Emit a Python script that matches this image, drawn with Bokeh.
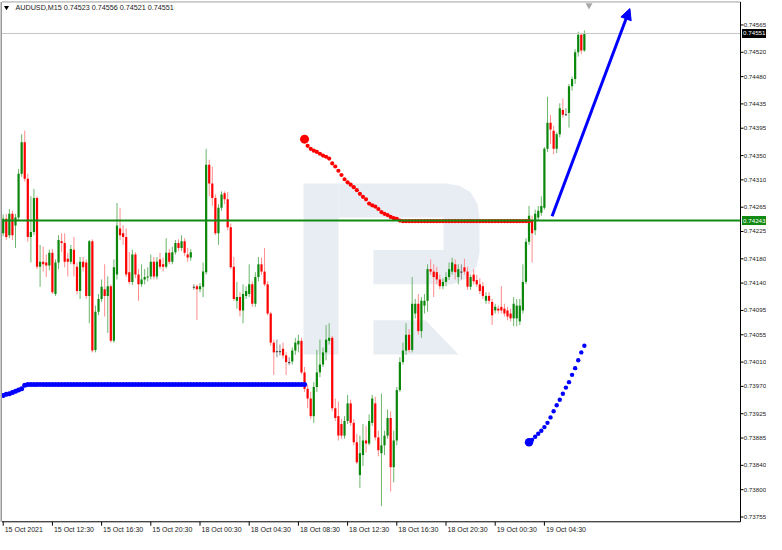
from bokeh.plotting import figure
from bokeh.models import Range1d, Arrow, NormalHead, ColumnDataSource
from bokeh.core.properties import value
from bokeh.embed import file_html
from bokeh.resources import INLINE

# ---------------- data ----------------
symbol = "AUDUSD,M15"
time_labels = ["15 Oct 2021", "15 Oct 12:30", "15 Oct 16:30", "15 Oct 20:30",
               "18 Oct 00:30", "18 Oct 04:30", "18 Oct 08:30", "18 Oct 12:30",
               "18 Oct 16:30", "18 Oct 20:30", "19 Oct 00:30", "19 Oct 04:30"]
time_label_bars = [0, 16, 32, 48, 64, 80, 96, 112, 128, 144, 160, 176]
price_ticks = [0.73755, 0.73800, 0.73840, 0.73885, 0.73925, 0.73970, 0.74010,
               0.74055, 0.74095, 0.74140, 0.74180, 0.74225, 0.74265, 0.74310,
               0.74350, 0.74395, 0.74435, 0.74480, 0.74520, 0.74565]

opens = [
 0.74222,0.74246,0.74219,0.74254,0.74235,0.74248,0.74320,0.74372,0.74312,0.74216,
 0.74224,0.74280,0.74167,0.74175,0.74174,0.74169,0.74190,0.74122,0.74174,0.74209,
 0.74206,0.74180,0.74175,0.74195,0.74167,0.74127,0.74175,0.74174,0.74119,0.74209,
 0.74030,0.74093,0.74114,0.74130,0.74119,0.74135,0.74045,0.74154,0.74230,0.74222,
 0.74216,0.74158,0.74142,0.74187,0.74154,0.74138,0.74146,0.74150,0.74151,0.74175,
 0.74151,0.74179,0.74171,0.74167,0.74190,0.74175,0.74191,0.74206,0.74198,0.74209,
 0.74187,0.74182,0.74134,0.74135,0.74130,0.74134,0.74158,0.74335,0.74304,0.74280,
 0.74222,0.74264,0.74288,0.74278,0.74232,0.74167,0.74111,0.74117,0.74095,0.74119,
 0.74122,0.74138,0.74106,0.74150,0.74171,0.74159,0.74138,0.74090,0.74042,0.74028,
 0.74028,0.74032,0.74021,0.74010,0.74011,0.74029,0.74039,0.74045,0.73993,0.73966,
 0.73950,0.73921,0.73969,0.73993,0.74006,0.74026,0.74045,0.74050,0.73934,0.73921,
 0.73908,0.73889,0.73913,0.73942,0.73910,0.73878,0.73824,0.73857,0.73881,0.73876,
 0.73910,0.73942,0.73886,0.73860,0.73873,0.73889,0.73918,0.73837,0.73881,0.73964,
 0.74010,0.74029,0.74055,0.74030,0.74090,0.74106,0.74061,0.74103,0.74111,0.74163,
 0.74159,0.74158,0.74146,0.74135,0.74142,0.74150,0.74159,0.74171,0.74150,0.74159,
 0.74166,0.74159,0.74134,0.74154,0.74145,0.74138,0.74135,0.74111,0.74119,0.74109,
 0.74095,0.74098,0.74101,0.74098,0.74095,0.74090,0.74082,0.74082,0.74077,0.74095,
 0.74142,0.74208,0.74243,0.74227,0.74248,0.74256,0.74264,0.74361,0.74404,0.74391,
 0.74361,0.74385,0.74425,0.74418,0.74420,0.74464,0.74476,0.74520,0.74549,0.74523]
highs = [
 0.74253,0.74254,0.74262,0.74259,0.74254,0.74328,0.74385,0.74391,0.74320,0.74283,
 0.74295,0.74283,0.74203,0.74200,0.74187,0.74195,0.74196,0.74179,0.74219,0.74222,
 0.74222,0.74190,0.74203,0.74216,0.74174,0.74183,0.74183,0.74179,0.74211,0.74212,
 0.74103,0.74122,0.74146,0.74171,0.74151,0.74138,0.74179,0.74272,0.74264,0.74235,
 0.74230,0.74191,0.74195,0.74191,0.74163,0.74171,0.74163,0.74166,0.74187,0.74183,
 0.74183,0.74190,0.74182,0.74214,0.74196,0.74200,0.74211,0.74212,0.74219,0.74214,
 0.74198,0.74196,0.74138,0.74138,0.74140,0.74174,0.74361,0.74343,0.74332,0.74286,
 0.74270,0.74291,0.74291,0.74290,0.74238,0.74183,0.74142,0.74125,0.74138,0.74135,
 0.74171,0.74143,0.74158,0.74183,0.74182,0.74198,0.74143,0.74093,0.74047,0.74047,
 0.74039,0.74042,0.74026,0.74018,0.74034,0.74050,0.74055,0.74050,0.74002,0.73973,
 0.73961,0.73977,0.74030,0.74047,0.74034,0.74071,0.74074,0.74053,0.73950,0.73945,
 0.73916,0.73921,0.73956,0.73948,0.73916,0.73892,0.73889,0.73908,0.73905,0.73924,
 0.73956,0.73953,0.73897,0.73958,0.73897,0.73932,0.73929,0.73897,0.73969,0.74018,
 0.74042,0.74074,0.74064,0.74150,0.74114,0.74122,0.74117,0.74122,0.74171,0.74179,
 0.74171,0.74167,0.74154,0.74148,0.74158,0.74174,0.74182,0.74179,0.74171,0.74171,
 0.74180,0.74167,0.74154,0.74163,0.74154,0.74148,0.74142,0.74125,0.74125,0.74114,
 0.74106,0.74103,0.74135,0.74106,0.74101,0.74098,0.74117,0.74114,0.74114,0.74171,
 0.74214,0.74267,0.74251,0.74261,0.74267,0.74283,0.74364,0.74447,0.74417,0.74399,
 0.74388,0.74436,0.74444,0.74428,0.74468,0.74480,0.74525,0.74554,0.74552,0.74556]
lows = [
 0.74217,0.74211,0.74214,0.74211,0.74198,0.74243,0.74315,0.74307,0.74208,0.74174,
 0.74219,0.74163,0.74134,0.74159,0.74150,0.74161,0.74122,0.74119,0.74163,0.74191,
 0.74166,0.74151,0.74171,0.74151,0.74122,0.74114,0.74159,0.74114,0.74074,0.74026,
 0.74026,0.74087,0.74109,0.74085,0.74058,0.74042,0.74042,0.74146,0.74211,0.74203,
 0.74150,0.74138,0.74137,0.74148,0.74111,0.74134,0.74138,0.74143,0.74146,0.74146,
 0.74146,0.74163,0.74159,0.74164,0.74171,0.74171,0.74187,0.74193,0.74193,0.74185,
 0.74175,0.74177,0.74129,0.74079,0.74125,0.74117,0.74154,0.74283,0.74267,0.74219,
 0.74203,0.74259,0.74270,0.74227,0.74163,0.74111,0.74098,0.74085,0.74074,0.74114,
 0.74117,0.74101,0.74101,0.74143,0.74154,0.74135,0.74087,0.74037,0.73989,0.74018,
 0.74021,0.74016,0.73989,0.74005,0.74006,0.74022,0.74026,0.73990,0.73961,0.73934,
 0.73916,0.73910,0.73961,0.73985,0.74002,0.74013,0.74039,0.73929,0.73913,0.73881,
 0.73884,0.73884,0.73908,0.73905,0.73873,0.73842,0.73803,0.73839,0.73861,0.73873,
 0.73905,0.73881,0.73855,0.73773,0.73857,0.73884,0.73797,0.73812,0.73873,0.73961,
 0.74006,0.74022,0.74026,0.74026,0.74082,0.74055,0.74050,0.74090,0.74093,0.74154,
 0.74117,0.74138,0.74130,0.74130,0.74135,0.74145,0.74154,0.74146,0.74138,0.74146,
 0.74154,0.74129,0.74129,0.74138,0.74134,0.74122,0.74114,0.74106,0.74106,0.74071,
 0.74090,0.74090,0.74090,0.74085,0.74079,0.74077,0.74069,0.74069,0.74071,0.74090,
 0.74138,0.74203,0.74174,0.74219,0.74243,0.74251,0.74261,0.74356,0.74369,0.74352,
 0.74354,0.74380,0.74412,0.74415,0.74396,0.74457,0.74468,0.74513,0.74517,0.74521]
closes = [
 0.74246,0.74216,0.74254,0.74219,0.74248,0.74320,0.74372,0.74312,0.74216,0.74224,
 0.74280,0.74167,0.74175,0.74171,0.74169,0.74190,0.74125,0.74174,0.74211,0.74206,
 0.74175,0.74175,0.74196,0.74171,0.74127,0.74175,0.74166,0.74119,0.74209,0.74029,
 0.74093,0.74114,0.74134,0.74119,0.74135,0.74045,0.74166,0.74235,0.74219,0.74216,
 0.74154,0.74142,0.74187,0.74154,0.74138,0.74146,0.74150,0.74151,0.74175,0.74151,
 0.74175,0.74167,0.74167,0.74190,0.74175,0.74191,0.74206,0.74198,0.74209,0.74190,
 0.74182,0.74191,0.74134,0.74130,0.74135,0.74159,0.74335,0.74304,0.74280,0.74222,
 0.74264,0.74286,0.74278,0.74232,0.74166,0.74114,0.74117,0.74095,0.74122,0.74127,
 0.74138,0.74106,0.74150,0.74171,0.74159,0.74138,0.74090,0.74042,0.74026,0.74028,
 0.74028,0.74021,0.74010,0.74010,0.74029,0.74042,0.74045,0.73993,0.73966,0.73950,
 0.73921,0.73969,0.73993,0.74006,0.74026,0.74047,0.74050,0.73934,0.73918,0.73889,
 0.73889,0.73913,0.73942,0.73910,0.73878,0.73845,0.73860,0.73881,0.73876,0.73913,
 0.73950,0.73886,0.73865,0.73873,0.73889,0.73918,0.73837,0.73881,0.73964,0.74010,
 0.74029,0.74055,0.74030,0.74106,0.74106,0.74061,0.74111,0.74111,0.74163,0.74159,
 0.74150,0.74146,0.74135,0.74142,0.74150,0.74163,0.74174,0.74158,0.74163,0.74159,
 0.74159,0.74134,0.74150,0.74143,0.74138,0.74127,0.74119,0.74119,0.74111,0.74087,
 0.74101,0.74095,0.74095,0.74090,0.74085,0.74082,0.74106,0.74103,0.74103,0.74142,
 0.74208,0.74251,0.74222,0.74254,0.74259,0.74267,0.74361,0.74404,0.74393,0.74361,
 0.74385,0.74428,0.74417,0.74418,0.74464,0.74476,0.74520,0.74549,0.74523,0.74551]

support_level = 0.74243   # green horizontal line
bid_price = 0.74551       # grey bid line / black price box

# red dotted indicator (starts at bar 98)
red_start = 98
red_curve = [0.74377, 0.74366, 0.74361, 0.74358, 0.74356, 0.74353, 0.74350, 0.74348,
             0.74345, 0.74337, 0.74332, 0.74325, 0.74318, 0.74311, 0.74306, 0.74302,
             0.74298, 0.74293, 0.74287, 0.74282, 0.74278, 0.74271, 0.74268, 0.74266,
             0.74262, 0.74257, 0.74254, 0.74252, 0.74249, 0.74247, 0.74246, 0.74243]
red_flat_value = 0.74242
red_flat_count = 42

# blue dotted indicator, left part (starts at bar 0)
blue_left_start = [0.73955, 0.73957, 0.73958, 0.73960, 0.73962, 0.73964, 0.73966, 0.73972]
blue_flat_value = 0.73973
blue_flat_count = 91

# blue dotted indicator, right part (starts at bar 171)
blue_right_start = 171
blue_right = [0.73878, 0.73882, 0.73887, 0.73892, 0.73897, 0.73903, 0.73910, 0.73919,
              0.73929, 0.73939, 0.73948, 0.73958, 0.73968, 0.73977, 0.73989, 0.74000,
              0.74013, 0.74026, 0.74037]

# forecast arrow (bar index, price)
arrow_x = [178.5, 203.8]
arrow_y = [0.74250, 0.74592]

# ---------------- layout helpers (reference pixel layout -> data) ----------------
def px2bar(px):
    return (px - 2.7) / 3.075

def px2price(py):
    return 0.74565 - (py - 25) / 62112.0

FONT = "Liberation Sans"
UP = "#0b870b"
DN = "#ff0000"
UP_W = "#6cb56c"
DN_W = "#ff8c8c"
FLAT = "#3a3a3a"

XL, XR = px2bar(1.5), px2bar(740)        # chart window left/right edges
YT, YB = px2price(1.5), px2price(533)    # chart window top/bottom edges

p = figure(width=766, height=534, output_backend="svg", toolbar_location=None,
           x_range=Range1d(px2bar(0), px2bar(766)),
           y_range=Range1d(px2price(546), px2price(0)),
           x_axis_location=None, y_axis_location=None,
           min_border=0, min_border_left=0, min_border_right=0,
           min_border_top=0, min_border_bottom=0)
p.grid.visible = False
p.outline_line_color = None
p.background_fill_color = "white"
p.border_fill_color = "white"

# ---- watermark logo (reference pixel shape) ----
logo_px = [
    [(303, 187), (338, 187), (338, 362), (303, 362)],
    [(338, 187), (448, 187), (448, 222), (338, 222)],
    [(443, 187), (458, 189), (470, 196), (477, 208), (479, 222), (479, 258),
     (476, 272), (467, 284), (452, 290), (443, 290)],
    [(373, 255), (448, 255), (448, 290), (373, 290)],
    [(373, 327), (425, 327), (458, 362), (373, 362)],
]
p.patches(xs=[[px2bar(a) for a, b in part] for part in logo_px],
          ys=[[px2price(b) for a, b in part] for part in logo_px],
          fill_color="#e8ecf3", line_color=None)

# ---- candles ----
n = len(opens)
bars = list(range(n))
tops = [max(o, c) for o, c in zip(opens, closes)]
bots = [min(o, c) for o, c in zip(opens, closes)]
bots = [b if t - b > 0.000017 else t - 0.000017 for t, b in zip(tops, bots)]
body_col = [UP if c > o else (DN if c < o else FLAT) for o, c in zip(opens, closes)]
wick_col = [UP_W if c > o else (DN_W if c < o else "#8a8a8a") for o, c in zip(opens, closes)]
src = ColumnDataSource(dict(x=bars, top=tops, bottom=bots, high=highs, low=lows,
                            bc=body_col, wc=wick_col))
p.segment(x0="x", y0="low", x1="x", y1="high", line_color="wc", line_width=1, source=src)
p.vbar(x="x", top="top", bottom="bottom", width=0.72, fill_color="bc", line_color=None, source=src)

# ---- indicators ----
red_vals = red_curve + [red_flat_value] * red_flat_count
red_x = list(range(red_start, red_start + len(red_vals)))
p.scatter(red_x, red_vals, size=4.2, color="#ff0000", line_color=None)
p.scatter([red_x[0]], [red_vals[0]], size=9, color="#ff0000", line_color=None)

blue_left = blue_left_start + [blue_flat_value] * blue_flat_count
p.scatter(list(range(len(blue_left))), blue_left, size=5, color="#0000ff", line_color=None)

br_x = list(range(blue_right_start, blue_right_start + len(blue_right)))
p.scatter(br_x, blue_right, size=4.4, color="#0000ff", line_color=None)
p.scatter([br_x[0]], [blue_right[0]], size=8.5, color="#0000ff", line_color=None)

# ---- horizontal lines (limited to the chart window) ----
p.segment(x0=[XL], y0=[bid_price], x1=[XR], y1=[bid_price], line_color="#c4c4c4", line_width=1)
p.segment(x0=[XL], y0=[support_level], x1=[XR], y1=[support_level], line_color="#118a11", line_width=2)

# ---- arrow ----
p.add_layout(Arrow(x_start=arrow_x[0], y_start=arrow_y[0], x_end=arrow_x[1], y_end=arrow_y[1],
                   line_color="#0000ff", line_width=3,
                   end=NormalHead(size=11, fill_color="#0000ff", line_color="#0000ff")))

# chart-shift marker
p.scatter([px2bar(588.5)], [px2price(5)], marker="inverted_triangle", size=7,
          color="#a8a8a8", line_color=None)

# ---- chart window frame ----
p.segment(x0=[XL, XL, XR, px2bar(0.5)], y0=[YB, YT, YB, YB],
          x1=[XR, XR, XR, px2bar(0.5)], y1=[YB, YT, YT, YT],
          line_color=["black", "#a0a0a0", "black", "#9a9a9a"], line_width=[1, 1, 1, 2])

# ---- price scale (right) ----
tick_len_x = px2bar(743) - XR
p.segment(x0=[XR] * len(price_ticks), y0=price_ticks,
          x1=[XR + tick_len_x] * len(price_ticks), y1=price_ticks,
          line_color="black", line_width=1)
p.text(x=[px2bar(743.2)] * len(price_ticks), y=price_ticks,
       text=["%.5f" % t for t in price_ticks],
       text_font=value(FONT), text_font_size=value("6.2px"), text_color="#222222",
       text_align="left", text_baseline="middle")

# price boxes
box_half = 4.6 / 62112.0
box_prices = [bid_price, support_level]
p.quad(left=[px2bar(741.5)] * 2, right=[px2bar(765.5)] * 2,
       top=[v + box_half for v in box_prices], bottom=[v - box_half for v in box_prices],
       fill_color=["#000000", "#118a11"], line_color=None)
p.text(x=[px2bar(742.6)] * 2, y=box_prices, text=["%.5f" % v for v in box_prices],
       text_font=value(FONT), text_font_size=value("6.2px"), text_color="white",
       text_align="left", text_baseline="middle")

# ---- time scale (bottom) ----
p.segment(x0=time_label_bars, y0=[YB] * len(time_label_bars),
          x1=time_label_bars, y1=[px2price(537)] * len(time_label_bars),
          line_color="black", line_width=1)
p.text(x=[b + px2bar(4.2) for b in time_label_bars], y=[px2price(540.5)] * len(time_label_bars),
       text=time_labels, text_font=value(FONT), text_font_size=value("7px"),
       text_color="#222222", text_align="left", text_baseline="middle")

# ---- header ----
p.scatter([px2bar(6)], [px2price(7)], marker="inverted_triangle", size=5,
          color="black", line_color=None)
header = "%s  %.5f %.5f %.5f %.5f" % (symbol, opens[-1], highs[-1], lows[-1], closes[-1])
p.text(x=[px2bar(15)], y=[px2price(7)], text=[header], text_font=value(FONT),
       text_font_size=value("7.2px"), text_color="#222222",
       text_align="left", text_baseline="middle")

open("out.html", "w").write(file_html(p, INLINE))
